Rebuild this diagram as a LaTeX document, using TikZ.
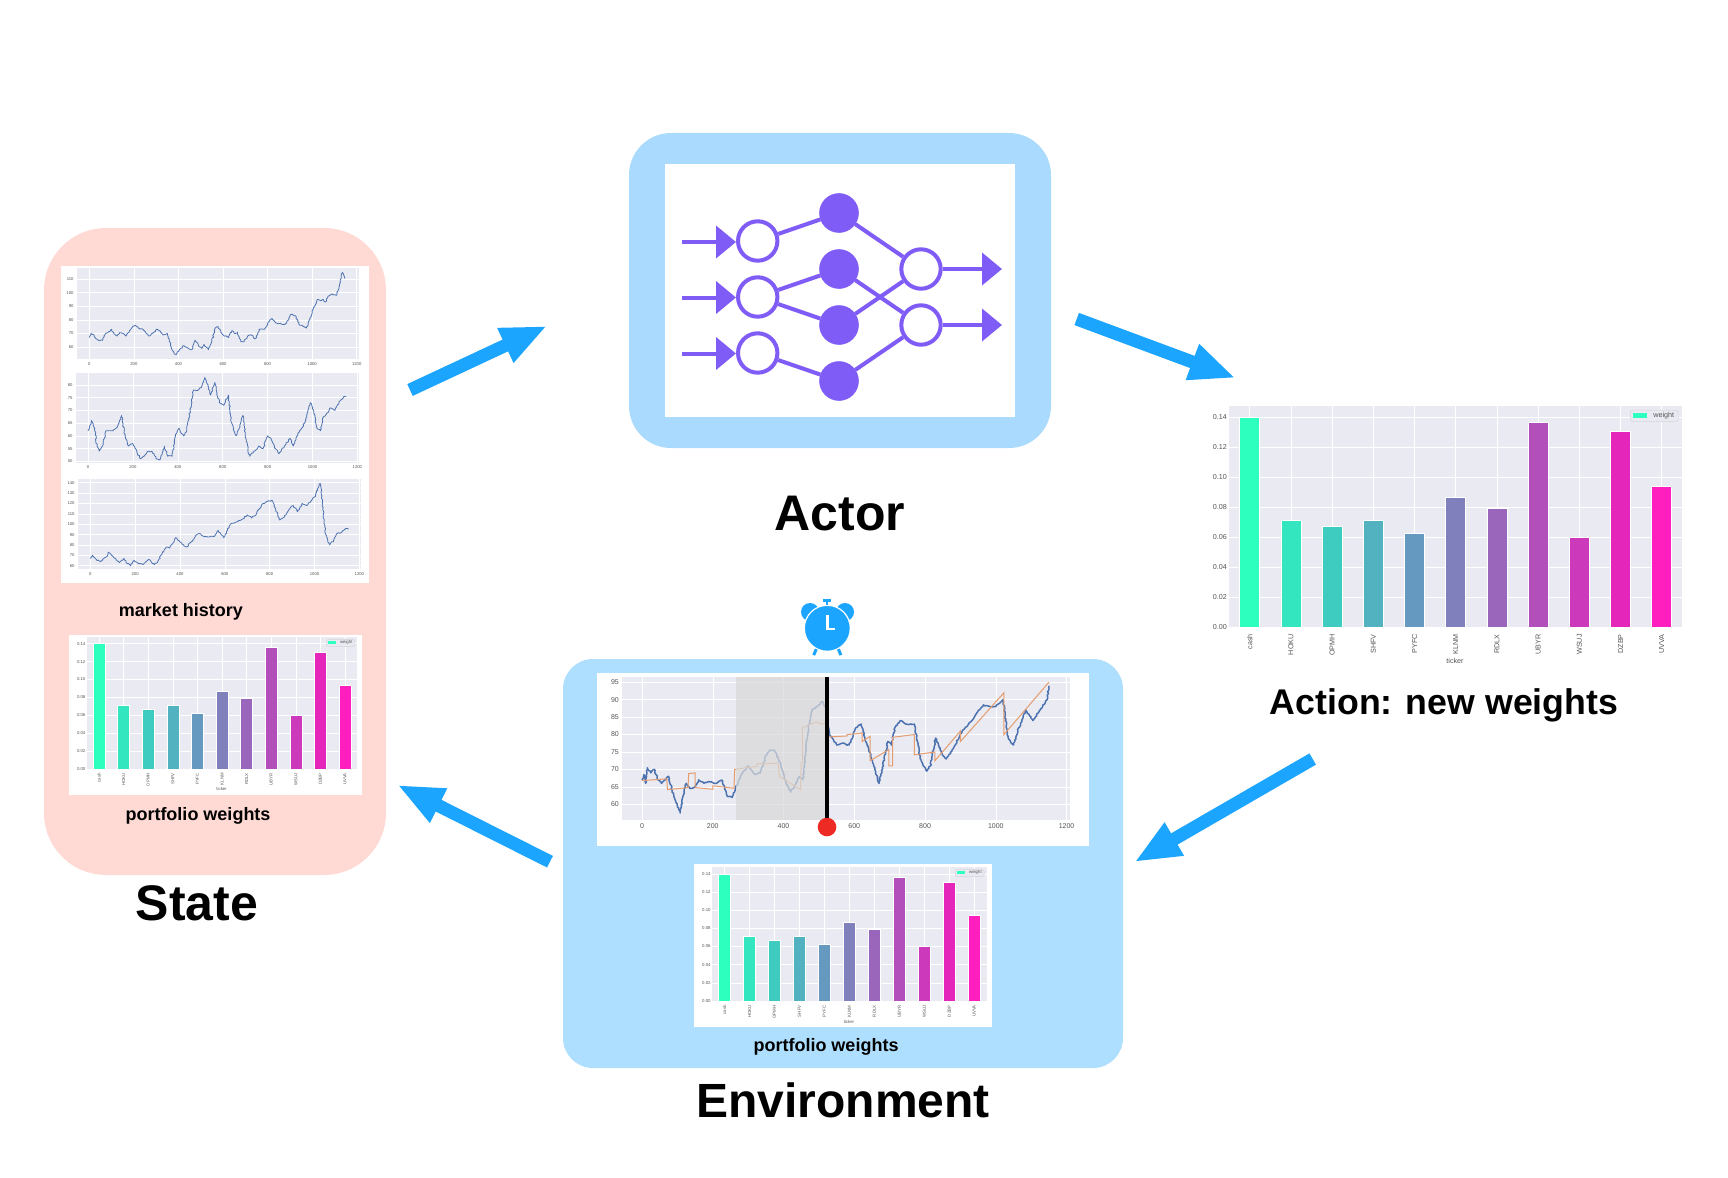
\documentclass[tikz,border=0pt]{standalone}
\usepackage{fontspec}
\setmainfont{Liberation Sans}
\usepackage{tikz}
\usetikzlibrary{arrows.meta,positioning,decorations.pathmorphing}

\definecolor{actorblue}{HTML}{AADBFF}
\definecolor{envblue}{HTML}{AFDFFF}
\definecolor{statepink}{HTML}{FFDAD5}
\definecolor{flowblue}{HTML}{1CA5FF}
\definecolor{netpurple}{HTML}{7F5CF6}
\definecolor{plotbg}{HTML}{EAEAF2}
\definecolor{tickgray}{HTML}{555555}
\definecolor{pricecolor}{HTML}{4C72B0}
\definecolor{modelcolor}{HTML}{E59C6E}
\definecolor{barlow}{HTML}{2DFFBE}
\definecolor{alarmred}{HTML}{EE2A24}

\newcommand{\tickpt}{4.2}
\newcommand{\pricewidth}{.8pt}

\newcommand{\weightchart}[3]{%
  \begin{scope}[shift={(#1,#2)},scale=#3,every node/.append style={transform shape}]
    \fill[plotbg] (0,0) rectangle (453,-221);
    \foreach \tk in {0.00,0.02,0.04,0.06,0.08,0.10,0.12,0.14}{
      \draw[gridline] (0,{-\tk*1500}) -- (453,{-\tk*1500});
      \node[barfont,anchor=east] at (-2,{-\tk*1500}) {\tk};
    }
    \foreach \w/\t/\c [count=\i from 0] in
      {0.14/cash/2DFFBE,0.071/HOKU/33E6C0,0.067/OPMH/3FCCC0,0.0715/SHFV/52B2C0,0.0625/PYFC/6699BF,0.0865/KLNM/8080BC,0.079/RDLX/9966BC,0.1365/UBYR/B24FBA,0.06/WSUJ/CC39BB,0.1305/DZBP/E526BB,0.094/UVVA/FF1FBF}{
      \definecolor{thisbar}{HTML}{\c}
      \draw[gridline] ({20.7+\i*41.2},0) -- ({20.7+\i*41.2},-221);
      \fill[thisbar,draw=white,line width=.5pt] ({10.7+\i*41.2},0) rectangle ({30.7+\i*41.2},{-\w*1500});
      \node[barfont,rotate=90,anchor=east] at ({20.7+\i*41.2},7) {\t};
    }
    \node[barfont] at (226,34) {ticker};
    \draw[plotbg!90!black,fill=plotbg,rounded corners=1.5pt,line width=.5pt] (401.7,-217) rectangle (449,-205.3);
    \fill[barlow] (404,-214) rectangle (418,-209.5);
    \node[barfont] at (434.7,-211.5) {weight};
  \end{scope}%
}

\newcommand{\pricechart}[9]{%
  \begin{scope}[shift={(#1)},x=#2pt,y=#3pt]
    \fill[plotbg] (#4,#5) rectangle (#6,#7);
    \foreach \tk in {0,200,...,1200}{
      \draw[gridline] (\tk,#5) -- (\tk,#7);
      \node[pricefont,anchor=north] at ([yshift=-3pt]\tk,#5) {\tk};
    }
    \foreach \vk in {#8}{
      \draw[gridline] (#4,\vk) -- (#6,\vk);
      \node[pricefont,anchor=east] at ([xshift=-3pt]#4,\vk) {\vk};
    }
    \draw[priceline] plot coordinates {#9};
  \end{scope}%
}

\pgfmathsetseed{11}

\begin{document}
\begin{tikzpicture}[
  x=1pt, y=-1pt,
  font=\fontsize{18}{22}\selectfont\bfseries,
  panel/.style={rectangle, inner sep=0pt, outer sep=0pt},
  frame/.style={rectangle, fill=white, inner sep=0pt, outer sep=0pt},
  bigtitle/.style={font=\fontsize{50}{58}\selectfont\bfseries, inner sep=0pt},
  gridline/.style={draw=white, line width=.5pt},
  barfont/.style={font=\fontsize{7.2}{8}\selectfont, text=tickgray, inner sep=0pt},
  pricefont/.style={font=\fontsize{\tickpt}{\tickpt}\selectfont, text=tickgray, inner sep=0pt},
  priceline/.style={draw=pricecolor, line width=\pricewidth, line join=round,
                    decorate, decoration={random steps, segment length=1.6pt, amplitude=.7pt}},
  flow/.style={draw=flowblue, line width=13pt, -{Triangle[length=46pt, width=35pt]}, fill=flowblue},
  innode/.style={circle, draw=netpurple, line width=4pt, fill=white, minimum size=39.4pt, inner sep=0pt},
  hidnode/.style={circle, draw=netpurple, line width=.5pt, fill=netpurple, minimum size=39pt, inner sep=0pt},
  netlink/.style={draw=netpurple, line width=4pt},
  netarrow/.style={draw=netpurple, line width=4pt, -{Triangle[length=20pt, width=32pt]}},
  clockpart/.style={fill=flowblue, draw=none},
]
\useasboundingbox (0,0) rectangle (1728,1177);

\node[panel, fill=statepink, minimum width=342pt, minimum height=647pt, rounded corners=62pt] (state) at (215,551.5) {};
\node[frame, minimum width=308pt, minimum height=317pt] (historyframe) at (215,424.5) {};
\node[frame, minimum width=293pt, minimum height=160pt] (stateweights) at (215.5,715) {};
\node[panel, fill=actorblue, minimum width=422pt, minimum height=315pt, rounded corners=42pt] (actor) at (840,290.5) {};
\node[frame, minimum width=350pt, minimum height=253pt] (actorframe) at (840,290.5) {};
\node[panel, fill=envblue, minimum width=560pt, minimum height=409pt, rounded corners=30pt] (env) at (843,863.5) {};
\node[frame, minimum width=492pt, minimum height=173pt] (envframe) at (843,759.5) {};
\node[frame, minimum width=298pt, minimum height=163pt] (envweights) at (843,945.5) {};

\pricechart{89.33,428.6}{.2228}{1.36}{-56.7}{51}{1210}{118}{60,70,80,90,100,110}{(0,67)(8,70)(20,69)(30,66)(45,64.5)(60,65)(70,69)(85,71)(100,73)(110,70)(125,68)(135,70.5)(150,70)(165,68)(180,72)(190,74)(205,76)(220,74)(240,73)(255,70)(270,68)(290,71)(305,73)(320,71)(335,69)(350,70)(365,62)(380,55)(392,55)(410,59)(425,61)(445,59)(460,58)(475,65)(490,61)(505,59)(515,62)(535,58)(550,64)(565,74)(578,75)(590,71)(605,68)(625,67)(640,72)(655,70)(665,71)(680,64)(695,64)(710,68)(725,69)(745,66)(765,73)(785,73)(800,77)(820,81)(835,78)(860,77)(880,77)(895,80)(905,84)(925,83)(945,76)(955,76)(975,74)(990,80)(1005,88)(1025,95)(1040,94)(1050,95)(1060,93)(1070,97)(1090,99)(1110,98)(1120,103)(1130,113)(1135,115)(1145,111)(1150,111)}
\pricechart{88,588.7}{.2245}{2.547}{-54.8}{49.5}{1206.7}{84.8}{50,55,60,65,70,75,80}{(0,62)(8,64)(15,66)(30,63)(40,56)(50,54)(65,56)(80,62)(95,62)(110,62)(125,63)(140,66)(150,68)(165,60)(180,56)(200,57)(220,53)(235,51)(250,52)(270,54)(285,54)(305,51)(320,50.5)(340,56)(355,52)(375,52)(390,60)(405,63)(425,60)(440,62)(455,70)(470,78)(490,78)(505,79)(520,83)(535,80)(545,76)(565,81)(585,73)(605,72)(625,76)(640,65)(660,60)(680,65)(690,68)(705,58)(720,52)(740,54)(760,56)(780,55)(800,60)(815,59)(835,55)(850,53)(875,56)(900,59)(915,56)(935,61)(965,65)(990,73)(1005,70)(1020,63)(1035,62)(1045,67)(1065,69)(1080,71)(1100,70)(1125,74)(1140,75.5)(1150,75.5)}
\pricechart{90.3,627.9}{.2242}{1.037}{-56}{56.8}{1207.5}{143.6}{60,70,80,90,100,110,120,130,140}{(0,67)(10,70)(30,65)(45,64)(60,67)(75,69)(80,73)(95,70)(115,66)(130,63)(150,67)(165,62)(180,60)(195,65)(215,62)(235,61)(260,66)(285,61)(300,63)(315,70)(340,78)(355,77)(380,87)(400,83)(430,78)(450,83)(470,89)(485,91)(510,88)(550,88)(570,94)(595,87)(625,100)(650,102)(680,105)(700,109)(720,106)(740,110)(770,120)(790,122)(810,123)(830,112)(845,104)(860,106)(890,115)(905,118)(925,112)(945,120)(965,118)(990,124)(1005,127)(1020,139)(1028,139)(1040,110)(1050,90)(1068,80)(1085,84)(1100,91)(1120,92)(1140,96)(1150,95)}

\weightchart{86.7}{769}{.597}
\weightchart{712}{1001}{.606}
\weightchart{1229}{627}{1}

\renewcommand{\tickpt}{7}
\renewcommand{\pricewidth}{1.5pt}
\pricechart{642,1013.5}{.3538}{3.487}{-56.5}{55.5}{1210}{96.5}{60,65,70,75,80,85,90,95}{(0,67)(5,68.5)(10,66)(15,70.5)(25,69)(35,70)(45,67)(55,66)(65,67)(75,68)(85,64)(95,61)(108,57.5)(115,62)(125,66)(135,64.5)(150,65)(160,67)(175,66)(195,66.5)(210,66)(225,67)(240,62.5)(255,62)(265,65)(285,69)(300,71)(320,68.5)(335,69)(350,74)(360,75.5)(375,75.5)(390,72)(405,67)(420,63.5)(430,65)(445,68)(455,67)(462,75)(470,82)(480,87)(495,88)(510,89.5)(518,88)(523,83)(530,80)(550,77)(565,77.5)(585,77)(605,82)(620,83)(630,79)(640,76)(655,71)(670,66)(685,73)(695,78)(705,77)(715,82)(730,84)(745,83)(770,83)(785,74)(795,71)(805,69.5)(815,71)(830,79)(850,74)(860,73)(880,76)(905,81)(920,82.5)(945,86)(965,88.5)(985,88)(1000,88)(1020,90)(1035,79)(1050,77)(1065,82)(1085,87)(1105,84)(1125,87)(1145,90)(1150,94)}
\begin{scope}[shift={(642,1013.5)},x=.3538pt,y=3.487pt]
  \draw[modelcolor, line width=1pt] plot coordinates {(0,66.8)(70,67.3)(72,64.2)(130,64.8)(132,68.8)(150,69)(150,64.8)(200,64.3)(200,65.3)(260,64.6)(262,70)(300,70.6)(325,70.8)(325,71.6)(385,71.8)(388,68)(448,64.2)(450,72)(453,72)(453,82)(495,83.7)(500,83.2)(520,83)(525,79.3)(580,79.6)(580,80)(615,80.3)(622,80.5)(622,78)(645,79.5)(645,72.5)(698,75.7)(698,71)(708,71)(708,79.2)(770,80)(770,74.2)(828,75)(828,72.5)(900,81)(900,78)(1023,92)(1023,80)(1150,95)};
\end{scope}
\fill[black!15, opacity=.72] (736,677) rectangle (826,820);
\coordinate (nowtop) at (827,677);
\node[circle, fill=alarmred, minimum size=18.6pt, inner sep=0pt] (nowdot) at (827,827) {};
\draw[line width=4pt] (nowtop) -- (nowdot);

\node[clockpart, circle, minimum size=18pt, inner sep=0pt] (earleft) at (810,612) {};
\node[clockpart, circle, minimum size=18pt, inner sep=0pt] (earright) at (845,612) {};
\node[clockpart, circle, minimum size=46pt, inner sep=0pt, draw=white, line width=1.2pt] (clock) at (827.3,628.3) {};
\draw[flowblue, line width=2pt] (clock.north) -- ++(0,-6);
\draw[flowblue, line width=3pt] (823.3,600.5) -- (831.3,600.5);
\draw[flowblue, line width=3pt] (clock.-118) -- ++(-2.5,6);
\draw[flowblue, line width=3pt] (clock.-62) -- ++(2.5,6);
\draw[white, line width=2.6pt] (827.3,615) -- (827.3,629) -- (835,629);

\node[innode] (in1) at (757.7,241) {};
\node[innode, below=12.6pt of in1] (in2) {};
\node[innode, below=12.6pt of in2] (in3) {};
\node[hidnode] (hid1) at (839,213) {};
\node[hidnode, below=16.5pt of hid1] (hid2) {};
\node[hidnode, below=16.5pt of hid2] (hid3) {};
\node[hidnode, below=16.5pt of hid3] (hid4) {};
\node[innode] (out1) at (921,269) {};
\node[innode, below=12.6pt of out1] (out2) {};
\coordinate (feed1) at (682,242);
\coordinate (feed2) at (682,297.5);
\coordinate (feed3) at (682,353.5);
\coordinate (emit1) at (1002,269);
\coordinate (emit2) at (1002,325);
\draw[netlink] (in1) -- (hid1);
\draw[netlink] (in2) -- (hid2);
\draw[netlink] (in2) -- (hid3);
\draw[netlink] (in3) -- (hid4);
\draw[netlink] (hid1) -- (out1);
\draw[netlink] (hid2) -- (out2);
\draw[netlink] (hid3) -- (out1);
\draw[netlink] (hid4) -- (out2);
\draw[netarrow] (feed1) -- (feed1 -| in1.west);
\draw[netarrow] (feed2) -- (feed2 -| in2.west);
\draw[netarrow] (feed3) -- (feed3 -| in3.west);
\draw[netarrow] (out1.east) -- (emit1);
\draw[netarrow] (out2.east) -- (emit2);

\coordinate (stateout) at (410,390);
\coordinate (actorin) at (547,326);
\coordinate (actorout) at (1076.7,319);
\coordinate (actionin) at (1235.5,378);
\coordinate (actionout) at (1312.7,759);
\coordinate (envin) at (1134.5,862);
\coordinate (envout) at (550,861.7);
\coordinate (statein) at (397.5,785);
\draw[flow] (stateout) -- (actorin);
\draw[flow] (actorout) -- (actionin);
\draw[flow] (actionout) -- (envin);
\draw[flow] (envout) -- (statein);

\node (historylabel) at (181,611.5) {market history};
\node (statelabel) at (198,815.5) {portfolio weights};
\node (envlabel) at (826,1047) {portfolio weights};
\node[bigtitle] (statetitle) at (197,903) {State};
\node[bigtitle] (actortitle) at (840,514) {Actor};
\node[bigtitle, font=\fontsize{48}{58}\selectfont\bfseries] (envtitle) at (843,1100) {Environment};
\node[bigtitle, font=\fontsize{35.7}{44}\selectfont\bfseries] (actiontitle) at (1444,705) {Action: new weights};
\end{tikzpicture}
\end{document}
